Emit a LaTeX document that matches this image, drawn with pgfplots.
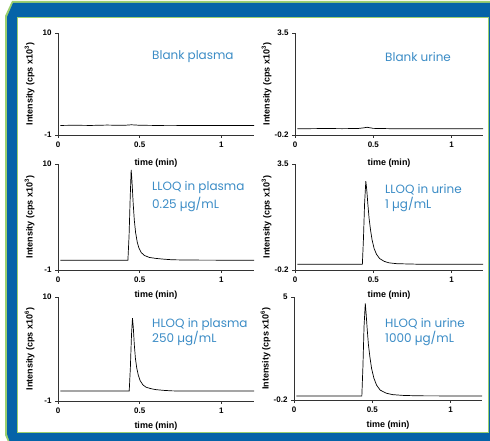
\documentclass[border=0pt]{standalone}
\usepackage{pgfplots}
\pgfplotsset{compat=1.18}
\usepackage{fontspec}
\setmainfont{Liberation Sans}
\newfontfamily\labfont{Poppins}
\definecolor{frameblue}{HTML}{0563A8}
\definecolor{framegreen}{HTML}{9CCF6E}
\definecolor{labblue}{HTML}{3B8CC6}
\newcommand{\tickfont}{\fontsize{8}{9}\selectfont\bfseries}
\newcommand{\axlabfont}{\fontsize{9}{10}\selectfont\bfseries}
\pgfplotsset{
  chrom/.style={
    scale only axis,
    anchor=south west,
    axis lines=left,
    axis line style={-, line width=0.8pt, black!80},
    xmin=0, xmax=1.2,
    xtick={0,0.5,1}, xticklabels={0,0.5,1},
    tick align=outside, major tick length=3pt,
    tick style={black!80, line width=0.6pt},
    xticklabel style={font=\tickfont},
    yticklabel style={font=\tickfont},
    xlabel={time (min)},
    every axis y label/.style={at={(rel axis cs:0,0.5)}, rotate=90, anchor=south, yshift=20pt, font=\axlabfont},
    every axis x label/.style={at={(rel axis cs:0.5,0)}, anchor=center, yshift=-25pt, font=\axlabfont},
  },
  plas/.style={chrom, ymin=-1, ymax=10, ytick={-1,10}, yticklabels={-1,10}},
  uri/.style={chrom, ymin=-0.2, ymax=3.5, ytick={-0.2,3.5}, yticklabels={-0.2,3.5}},
}
\tikzset{lab/.style={anchor=west, inner sep=0pt, text=labblue, font=\labfont\fontsize{12}{14}\selectfont}}
\begin{document}
\begin{tikzpicture}
\useasboundingbox (0pt,0pt) rectangle (490pt,441pt);
\begin{scope}
\clip (0pt,0pt) rectangle (490pt,441pt);
\fill[framegreen] (12pt,440pt) -- (500pt,440pt) -- (500pt,-10pt) -- (12pt,-10pt) -- (5pt,6pt) -- (5pt,425pt) -- cycle;
\fill[frameblue] (13pt,438pt) -- (500pt,438pt) -- (500pt,-10pt) -- (13pt,-10pt) -- (7pt,7pt) -- (7pt,424pt) -- cycle;
\fill[framegreen] (17pt,8pt) rectangle (489pt,424pt);
\fill[white] (18.2pt,9.2pt) rectangle (487.8pt,422.8pt);
\end{scope}

% Panel 1: blank plasma
\begin{axis}[plas, at={(58pt,306pt)}, width=196pt, height=102pt,
  ylabel={Intensity (cps x10\textsuperscript{3})},
  every axis x label/.style={at={(rel axis cs:0.5,0)}, anchor=center, yshift=-28pt, font=\axlabfont}]
\addplot[black, line width=0.7pt] coordinates {
(0.015,0.03)(0.1,0.05)(0.2,0.03)(0.3,0.07)(0.4,0.04)(0.45,0.1)(0.5,0.05)(0.6,0.03)(0.7,0.04)(0.8,0.02)(1.0,0.03)(1.2,0.02)};
\end{axis}
\node[lab] at (152pt,384pt) {Blank plasma};

% Panel 2: blank urine
\begin{axis}[uri, at={(295pt,306pt)}, width=188pt, height=102pt,
  ylabel={Intensity (cps x10\textsuperscript{3})},
  every axis x label/.style={at={(rel axis cs:0.5,0)}, anchor=center, yshift=-28pt, font=\axlabfont}]
\addplot[black, line width=0.7pt] coordinates {
(0.015,0.03)(0.1,0.03)(0.2,0.035)(0.3,0.03)(0.4,0.035)(0.44,0.06)(0.46,0.08)(0.48,0.06)(0.5,0.04)(0.6,0.03)(0.8,0.03)(1.0,0.03)(1.2,0.03)};
\end{axis}
\node[lab] at (385pt,384pt) {Blank urine};

% Panel 3: LLOQ plasma
\begin{axis}[plas, at={(58pt,171pt)}, width=196pt, height=106pt,
  ylabel={Intensity (cps x10\textsuperscript{3})}]
\addplot[black, line width=0.7pt] coordinates {
(0.015,0.02)(0.2,0.02)(0.428,0.02)(0.435,2.5)(0.442,6.5)(0.448,9.4)(0.453,8.2)(0.46,6)(0.467,4.2)(0.475,2.9)(0.485,1.9)(0.495,1.3)(0.51,0.8)(0.53,0.5)(0.56,0.3)(0.6,0.2)(0.65,0.12)(0.7,0.06)(0.8,0.03)(1.0,0.02)(1.2,0.02)};
\end{axis}
\node[lab] at (152pt,253.3pt) {LLOQ in plasma};
\node[lab] at (152pt,237pt) {0.25 µg/mL};

% Panel 4: LLOQ urine
\begin{axis}[uri, at={(295pt,171pt)}, width=188pt, height=106pt,
  ylabel={Intensity (cps x10\textsuperscript{3})}]
\addplot[black, line width=0.7pt] coordinates {
(0.015,0.0)(0.2,0.0)(0.43,0.0)(0.437,0.9)(0.444,2.1)(0.452,2.9)(0.458,2.6)(0.465,2.1)(0.473,1.6)(0.482,1.2)(0.492,0.85)(0.505,0.55)(0.52,0.35)(0.54,0.2)(0.57,0.1)(0.6,0.05)(0.65,0.02)(0.8,0.0)(1.2,0.0)};
\end{axis}
\node[lab] at (385pt,251pt) {LLOQ in urine};
\node[lab] at (385pt,236.7pt) {1 µg/mL};

% Panel 5: HLOQ plasma
\begin{axis}[plas, at={(58pt,40pt)}, width=196pt, height=104pt,
  ylabel={Intensity (cps x10\textsuperscript{6})}]
\addplot[black, line width=0.7pt] coordinates {
(0.015,0.05)(0.2,0.05)(0.436,0.05)(0.443,2.5)(0.45,6)(0.456,7.75)(0.461,6.8)(0.467,5)(0.474,3.5)(0.482,2.5)(0.492,1.7)(0.503,1.15)(0.52,0.7)(0.54,0.45)(0.57,0.3)(0.6,0.2)(0.65,0.12)(0.7,0.07)(0.8,0.05)(1.2,0.05)};
\end{axis}
\node[lab] at (152pt,116.7pt) {HLOQ in plasma};
\node[lab] at (152pt,102.7pt) {250 µg/mL};

% Panel 6: HLOQ urine
\begin{axis}[chrom, ymin=-0.2, ymax=5, ytick={-0.2,5}, yticklabels={-0.2,5},
  at={(294pt,41pt)}, width=188pt, height=103pt,
  ylabel={Intensity (cps x10\textsuperscript{6})}]
\addplot[black, line width=0.7pt] coordinates {
(0.015,0.0)(0.2,0.0)(0.433,0.0)(0.44,1.5)(0.447,3.5)(0.455,4.68)(0.46,4.2)(0.467,3.4)(0.475,2.6)(0.484,2.0)(0.495,1.4)(0.51,0.9)(0.527,0.55)(0.55,0.3)(0.59,0.14)(0.63,0.07)(0.7,0.03)(0.8,0.01)(1.2,0.0)};
\end{axis}
\node[lab] at (385pt,117pt) {HLOQ in urine};
\node[lab] at (385pt,103pt) {1000 µg/mL};
\end{tikzpicture}
\end{document}
